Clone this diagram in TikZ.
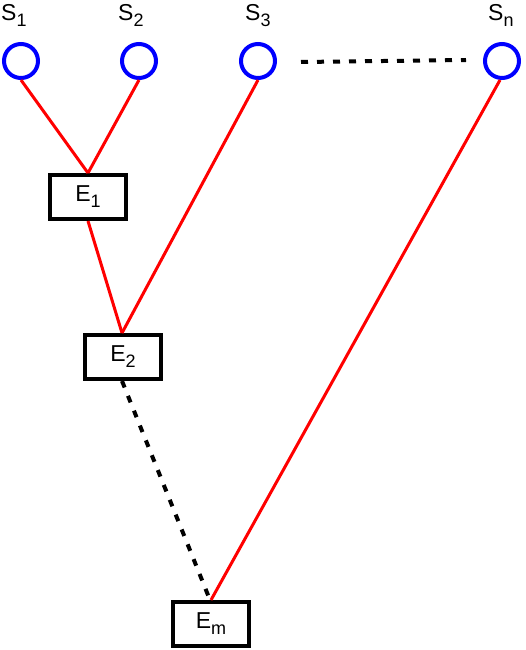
\documentclass[tikz,border=0pt]{standalone}
\usepackage{fontspec}
\setmainfont{Liberation Sans}
\newcommand{\lblsub}[2]{#1\raisebox{-6pt}{\fontsize{18}{18}\selectfont #2}}
\begin{document}
\begin{tikzpicture}[x=1pt,y=-1pt,
  src/.style={circle,draw=blue,line width=4pt,minimum size=34pt,inner sep=0pt},
  ebox/.style={rectangle,draw=black,line width=4pt,minimum width=76pt,minimum height=44pt,inner sep=0pt,font=\fontsize{23}{27}\selectfont},
  slabel/.style={anchor=base west,inner sep=0pt,font=\fontsize{23}{27}\selectfont},
  redline/.style={red,line width=3pt},
  dotline/.style={black,line width=4pt,dash pattern=on 7pt off 9pt}]
\useasboundingbox (0,0) rectangle (525,650);
\node[src] (s1) at (21,61) {};
\node[src] (s2) at (139,61) {};
\node[src] (s3) at (258,61) {};
\node[src] (sn) at (502,61) {};
\node[slabel] (l1) at (1,21) {\lblsub{S}{1}};
\node[slabel] (l2) at (118,21) {\lblsub{S}{2}};
\node[slabel] (l3) at (245,21) {\lblsub{S}{3}};
\node[slabel] (ln) at (488,21) {\lblsub{S}{n}};
\node[ebox] (e1) at (88,197) {\lblsub{E}{1}};
\node[ebox] (e2) at (123,357) {\lblsub{E}{2}};
\node[ebox] (em) at (211,624) {\lblsub{E}{m}};
\draw[redline] (s1.south) -- (e1.north);
\draw[redline] (s2.south) -- (e1.north);
\draw[redline] (e1.south) -- ([xshift=-1pt]e2.north);
\draw[redline] (s3.south) -- ([xshift=-1pt]e2.north);
\draw[redline] ([xshift=-2pt]sn.south) -- (em.north);
\draw[dotline] ([xshift=-1pt]e2.south) -- ([xshift=-1pt]em.north);
\draw[dotline] ([xshift=24pt,yshift=-1pt]s3.east) -- ([xshift=-17pt,yshift=1pt]sn.west);
\end{tikzpicture}
\end{document}
